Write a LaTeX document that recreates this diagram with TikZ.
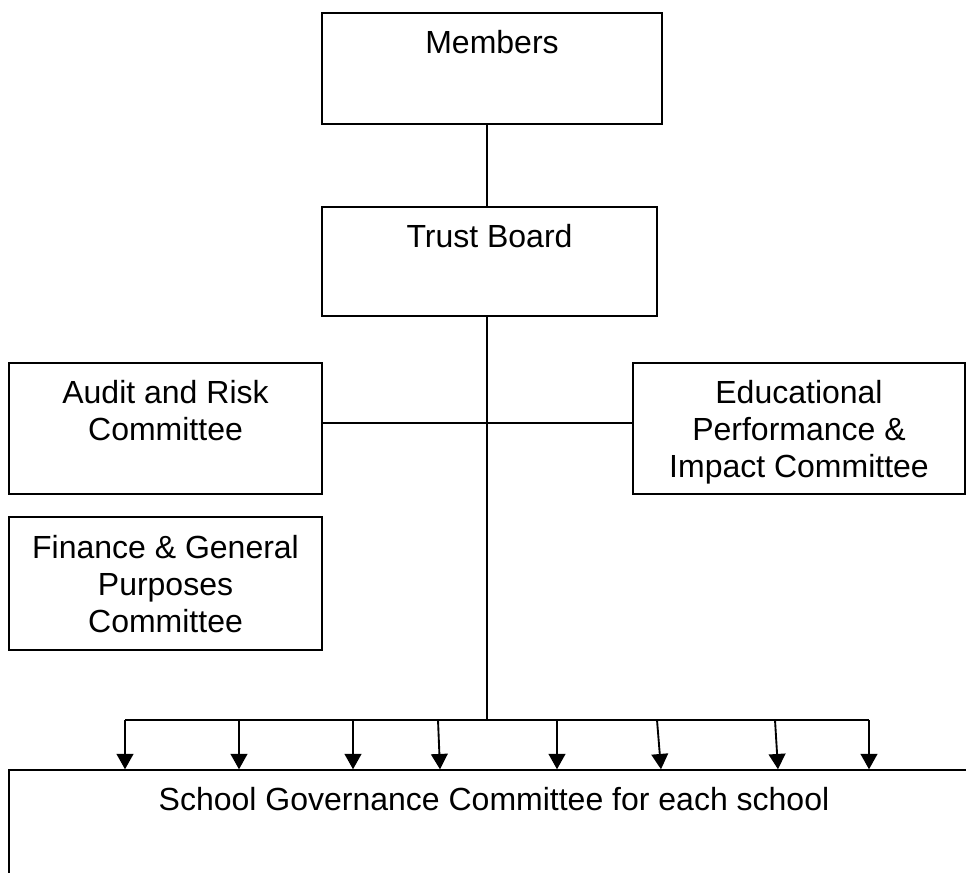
\documentclass[tikz,border=0pt]{standalone}
\usepackage{fontspec}
\setmainfont{Liberation Sans}
\usetikzlibrary{arrows.meta}
\begin{document}
\begin{tikzpicture}[x=0.75pt,y=-0.75pt,
  box/.style={draw=black, line width=1.1pt, rectangle, inner sep=0pt, fill=none},
  txt/.style={anchor=north, inner sep=0pt, align=center, font=\fontsize{24}{27.6}\selectfont},
  conn/.style={line width=1.4pt},
  arr/.style={line width=1.4pt, -{Triangle[width=12.5pt,length=11.5pt]}}]
\useasboundingbox (0,0) rectangle (966,872);
\clip (0,0) rectangle (966,872);
\fill[white] (0,0) rectangle (966,872);
% boxes
\node[box, minimum width=255pt, minimum height=83.25pt] (members) at (492,68.5) {};
\node[box, minimum width=251.25pt, minimum height=81.75pt] (trust) at (489.5,261.5) {};
\node[box, minimum width=234.75pt, minimum height=98.25pt] (audit) at (165.5,428.5) {};
\node[box, minimum width=249pt, minimum height=98.25pt] (edu) at (799,428.5) {};
\node[box, minimum width=234.75pt, minimum height=99.75pt] (finance) at (165.5,583.5) {};
\node[box, minimum width=727.5pt, minimum height=97.5pt] (school) at (494,835) {};
% texts
\node[txt] (memberst) at (492,30.5) {Members};
\node[txt] (trustt) at (489.5,224.5) {Trust Board};
\node[txt] (auditt) at (165.5,380.5) {Audit and Risk\\Committee};
\node[txt] (edut) at (799,380.5) {Educational\\Performance \&\\Impact Committee};
\node[txt] (financet) at (165.5,535) {Finance \& General\\Purposes\\Committee};
\node[txt] (schoolt) at (494,787.5) {School Governance Committee for each school};
% connector geometry
\coordinate (t) at (487,0);
\coordinate (h) at (487,423);
\coordinate (bus) at (487,720);
\coordinate (bl) at (125,720);
\coordinate (br) at (869,720);
\draw[conn] (members.south -| t) -- (trust.north -| t);
\draw[conn] (trust.south -| t) -- (bus);
\draw[conn] (audit.east |- h) -- (edu.west |- h);
\draw[conn] (bl) -- (br);
% arrows
\coordinate (b1) at (125,720);
\coordinate (b2) at (239,720);
\coordinate (b3) at (353,720);
\coordinate (b4) at (438,720);
\coordinate (b5) at (557,720);
\coordinate (b6) at (657,720);
\coordinate (b7) at (775,720);
\coordinate (b8) at (869,720);
\coordinate (e4) at (440,0);
\coordinate (e6) at (661,0);
\coordinate (e7) at (778,0);
\draw[arr] (b1) -- (school.north -| b1);
\draw[arr] (b2) -- (school.north -| b2);
\draw[arr] (b3) -- (school.north -| b3);
\draw[arr] (b4) -- (school.north -| e4);
\draw[arr] (b5) -- (school.north -| b5);
\draw[arr] (b6) -- (school.north -| e6);
\draw[arr] (b7) -- (school.north -| e7);
\draw[arr] (b8) -- (school.north -| b8);
\end{tikzpicture}
\end{document}
